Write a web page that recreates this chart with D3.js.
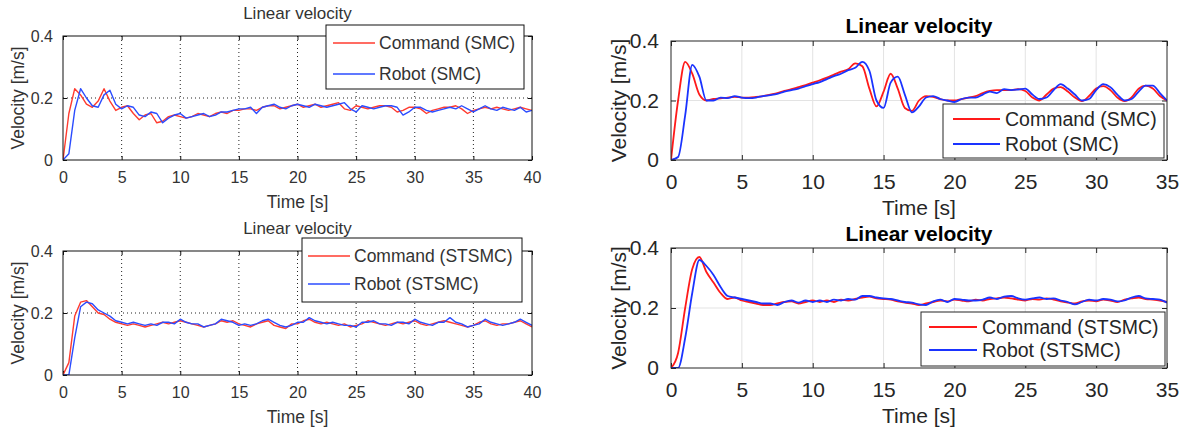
<!DOCTYPE html>
<html>
<head>
<meta charset="utf-8">
<script src="https://cdn.jsdelivr.net/npm/d3@7"></script>
<style>
  body { margin: 0; background: #fff; }
  svg { display: block; font-family: "Liberation Sans", Arial, sans-serif; }
</style>
</head>
<body>
<svg id="chart" width="1184" height="434"></svg>
<script>
// sample grids (s)
const timeLeft  = d3.range(0, 40.001, 0.5),
      timeRight = d3.range(0, 35.001, 0.5);

const xTicksLeft  = [0, 5, 10, 15, 20, 25, 30, 35, 40],
      xTicksRight = [0, 5, 10, 15, 20, 25, 30, 35],
      yTicks      = [0, 0.2, 0.4];

// top-left : SMC
const cmdSmcLeft = [0,0.15,0.23,0.21,0.18,0.17,0.19,0.23,0.19,0.16,
  0.17,0.175,0.15,0.13,0.145,0.15,0.12,0.125,0.14,0.145,
  0.14,0.135,0.14,0.15,0.145,0.14,0.15,0.155,0.15,0.16,
  0.16,0.165,0.165,0.16,0.17,0.175,0.175,0.165,0.17,0.175,
  0.18,0.17,0.175,0.18,0.17,0.175,0.18,0.185,0.165,0.16,
  0.175,0.17,0.165,0.17,0.175,0.175,0.17,0.155,0.16,0.17,
  0.17,0.165,0.15,0.16,0.165,0.17,0.17,0.175,0.165,0.15,
  0.16,0.165,0.17,0.165,0.17,0.165,0.16,0.165,0.17,0.165,0.16];
const robSmcLeft = [0,0.02,0.16,0.23,0.2,0.175,0.17,0.21,0.225,0.18,
  0.165,0.175,0.17,0.145,0.14,0.155,0.15,0.12,0.135,0.145,
  0.15,0.135,0.14,0.145,0.15,0.14,0.145,0.155,0.155,0.16,
  0.165,0.165,0.17,0.15,0.17,0.175,0.18,0.17,0.165,0.175,
  0.18,0.175,0.17,0.18,0.175,0.17,0.175,0.18,0.185,0.165,
  0.155,0.175,0.17,0.165,0.17,0.175,0.175,0.17,0.145,0.155,
  0.17,0.17,0.16,0.155,0.16,0.165,0.17,0.165,0.175,0.165,
  0.155,0.165,0.175,0.165,0.16,0.17,0.165,0.16,0.17,0.155,0.16];

// bottom-left : STSMC
const cmdStLeft = [0,0.04,0.19,0.235,0.24,0.22,0.2,0.195,0.18,0.17,
  0.165,0.16,0.165,0.16,0.155,0.16,0.165,0.17,0.165,0.17,
  0.175,0.17,0.165,0.16,0.155,0.16,0.165,0.175,0.17,0.175,
  0.165,0.16,0.155,0.165,0.17,0.175,0.16,0.155,0.15,0.165,
  0.165,0.175,0.18,0.17,0.165,0.17,0.165,0.16,0.165,0.155,
  0.16,0.165,0.175,0.17,0.165,0.16,0.165,0.17,0.165,0.17,
  0.175,0.165,0.16,0.165,0.17,0.175,0.17,0.165,0.16,0.155,
  0.16,0.17,0.175,0.165,0.16,0.165,0.165,0.17,0.175,0.165,0.155];
const robStLeft = [0,0,0.12,0.22,0.235,0.23,0.21,0.2,0.19,0.175,
  0.17,0.165,0.17,0.165,0.16,0.165,0.16,0.17,0.17,0.165,
  0.18,0.17,0.165,0.165,0.155,0.16,0.165,0.18,0.175,0.17,
  0.16,0.165,0.16,0.165,0.175,0.18,0.17,0.16,0.155,0.16,
  0.17,0.17,0.185,0.175,0.17,0.165,0.17,0.165,0.16,0.16,
  0.155,0.17,0.17,0.175,0.165,0.165,0.16,0.17,0.17,0.165,
  0.18,0.17,0.165,0.16,0.17,0.17,0.185,0.17,0.165,0.155,
  0.16,0.165,0.18,0.17,0.165,0.16,0.165,0.17,0.18,0.17,0.16];

// top-right : SMC
const cmdSmcRight = [0,0.2,0.33,0.29,0.22,0.2,0.205,0.207,0.21,0.212,
  0.21,0.21,0.212,0.215,0.22,0.225,0.232,0.238,0.245,0.252,
  0.26,0.268,0.277,0.287,0.297,0.305,0.325,0.315,0.24,0.18,
  0.23,0.29,0.24,0.175,0.165,0.2,0.215,0.212,0.205,0.2,
  0.2,0.205,0.21,0.215,0.225,0.232,0.235,0.235,0.235,0.238,
  0.232,0.21,0.2,0.22,0.24,0.245,0.23,0.21,0.198,0.215,
  0.24,0.248,0.235,0.21,0.198,0.21,0.24,0.25,0.24,0.215,0.2];
const robSmcRight = [0,0.01,0.15,0.32,0.28,0.2,0.2,0.21,0.208,0.215,
  0.21,0.208,0.21,0.215,0.218,0.222,0.23,0.235,0.24,0.248,
  0.255,0.262,0.272,0.282,0.29,0.302,0.31,0.33,0.3,0.2,
  0.175,0.26,0.28,0.22,0.16,0.18,0.21,0.215,0.205,0.2,
  0.195,0.205,0.21,0.21,0.22,0.23,0.225,0.238,0.235,0.237,
  0.24,0.22,0.205,0.21,0.235,0.255,0.24,0.22,0.2,0.205,
  0.235,0.255,0.245,0.22,0.2,0.205,0.23,0.25,0.25,0.225,0.2];

// bottom-right : STSMC
const cmdStRight = [0,0.05,0.2,0.33,0.37,0.32,0.285,0.25,0.23,0.235,
  0.225,0.22,0.215,0.21,0.21,0.215,0.22,0.222,0.215,0.22,
  0.225,0.22,0.225,0.22,0.228,0.225,0.23,0.235,0.238,0.232,
  0.23,0.228,0.222,0.218,0.215,0.21,0.215,0.22,0.225,0.222,
  0.228,0.225,0.222,0.228,0.225,0.23,0.232,0.235,0.232,0.228,
  0.225,0.23,0.228,0.232,0.228,0.222,0.218,0.215,0.222,0.225,
  0.222,0.228,0.225,0.22,0.228,0.232,0.235,0.23,0.228,0.225,0.22];
const robStRight = [0,0,0.1,0.25,0.36,0.34,0.31,0.27,0.24,0.235,
  0.23,0.225,0.22,0.215,0.215,0.21,0.22,0.225,0.218,0.225,
  0.22,0.225,0.22,0.228,0.225,0.23,0.228,0.24,0.24,0.235,
  0.232,0.23,0.225,0.22,0.218,0.212,0.21,0.222,0.228,0.22,
  0.23,0.228,0.225,0.225,0.228,0.235,0.23,0.238,0.24,0.232,
  0.228,0.232,0.235,0.23,0.232,0.225,0.22,0.212,0.22,0.228,
  0.225,0.23,0.228,0.222,0.225,0.235,0.24,0.232,0.23,0.228,0.218];

const svg = d3.select('#chart');

function panel(o){
    let x = d3.scaleLinear().domain([0, o.xMax]).range([o.x0, o.x1]),
        y = d3.scaleLinear().domain([0, 0.4]).range([o.y1, o.y0]),
        g = svg.append('g'),
        s = o.style;

    // grid
    g.selectAll('.gx').data(o.xTicks.filter(d => d > 0 && d < o.xMax)).enter()
        .append('line')
        .attr('x1', d => x(d)).attr('x2', d => x(d))
        .attr('y1', o.y0).attr('y2', o.y1)
        .attr('stroke', s.grid).attr('stroke-width', 1)
        .attr('stroke-dasharray', s.dash);
    g.selectAll('.gy').data(yTicks.filter(d => d > 0 && d < 0.4)).enter()
        .append('line')
        .attr('x1', o.x0).attr('x2', o.x1)
        .attr('y1', d => y(d)).attr('y2', d => y(d))
        .attr('stroke', s.grid).attr('stroke-width', 1)
        .attr('stroke-dasharray', s.dash);

    // axes (ticks inward), labels drawn by axis
    let ax = g.append('g').attr('transform', `translate(0,${o.y1})`)
        .call(d3.axisBottom(x).tickValues(o.xTicks).tickSize(-s.tick).tickPadding(s.tickPadX + s.tick).tickSizeOuter(0));
    let axTop = g.append('g').attr('transform', `translate(0,${o.y0})`)
        .call(d3.axisTop(x).tickValues(o.xTicks).tickSize(-s.tick).tickFormat('').tickSizeOuter(0));
    let ay = g.append('g').attr('transform', `translate(${o.x0},0)`)
        .call(d3.axisLeft(y).tickValues(yTicks).tickSize(-s.tick).tickPadding(s.tickPadY + s.tick).tickSizeOuter(0)
            .tickFormat(d => d === 0 ? '0' : d3.format('.1f')(d)));
    let ayR = g.append('g').attr('transform', `translate(${o.x1},0)`)
        .call(d3.axisRight(y).tickValues(yTicks).tickSize(-s.tick).tickFormat('').tickSizeOuter(0));
    [ax, axTop, ay, ayR].forEach(a => {
        a.select('.domain').remove();
        a.selectAll('line').attr('stroke', s.axis);
        a.selectAll('text').attr('fill', s.text).style('font-size', s.tickFont + 'px');
    });

    // lines
    let line = d3.line().x(d => x(d[0])).y(d => y(d[1])).curve(s.curve);
    let clip = 'clip' + o.id;
    svg.append('clipPath').attr('id', clip).append('rect')
        .attr('x', o.x0).attr('y', o.y0).attr('width', o.x1 - o.x0).attr('height', o.y1 - o.y0);
    o.series.forEach(sr => {
        g.append('path')
            .datum(o.time.map((t, i) => [t, sr.values[i]]))
            .attr('clip-path', `url(#${clip})`)
            .attr('fill', 'none')
            .attr('stroke', sr.color)
            .attr('stroke-width', s.lineW)
            .attr('stroke-linejoin', 'round')
            .attr('d', line);
    });

    // box
    g.append('rect').attr('x', o.x0).attr('y', o.y0)
        .attr('width', o.x1 - o.x0).attr('height', o.y1 - o.y0)
        .attr('fill', 'none').attr('stroke', s.axis).attr('stroke-width', 1);

    // title & axis labels
    g.append('text').attr('x', (o.x0 + o.x1) / 2).attr('y', o.titleY)
        .attr('text-anchor', 'middle').attr('dominant-baseline', 'central')
        .attr('fill', s.titleColor).style('font-size', s.titleFont + 'px')
        .style('font-weight', s.titleWeight).text('Linear velocity');
    g.append('text').attr('x', (o.x0 + o.x1) / 2).attr('y', o.xLabelY)
        .attr('text-anchor', 'middle').attr('dominant-baseline', 'central')
        .attr('fill', s.text).style('font-size', s.labelFont + 'px').text('Time [s]');
    g.append('text').attr('transform', `translate(${o.yLabelX},${(o.y0 + o.y1) / 2}) rotate(-90)`)
        .attr('text-anchor', 'middle').attr('dominant-baseline', 'central')
        .attr('fill', s.text).style('font-size', s.labelFont + 'px').text('Velocity [m/s]');

    // legend
    let L = o.legend;
    g.append('rect').attr('x', L.x0).attr('y', L.y0)
        .attr('width', L.x1 - L.x0).attr('height', L.y1 - L.y0)
        .attr('fill', '#fff').attr('stroke', s.axis).attr('stroke-width', 1);
    o.series.forEach((sr, i) => {
        g.append('line').attr('x1', L.lx0).attr('x2', L.lx1)
            .attr('y1', L.rows[i]).attr('y2', L.rows[i])
            .attr('stroke', sr.color).attr('stroke-width', s.lineW);
        g.append('text').attr('x', L.tx).attr('y', L.rows[i])
            .attr('dominant-baseline', 'central').attr('fill', s.text)
            .style('font-size', s.legendFont + 'px').text(sr.name);
    });
}

const oldStyle = {grid: '#222', dash: '1,3', axis: '#111', text: '#333', tick: 4, tickPadX: 8, tickPadY: 6,
    tickFont: 16, labelFont: 17.5, legendFont: 17.5, titleFont: 17, titleWeight: 'normal', titleColor: '#333',
    lineW: 1.4, curve: d3.curveLinear};
const newStyle = {grid: '#e3e3e3', dash: null, axis: '#262626', text: '#262626', tick: 5, tickPadX: 9, tickPadY: 7,
    tickFont: 21, labelFont: 21, legendFont: 19.5, titleFont: 21, titleWeight: 'bold', titleColor: '#000',
    lineW: 1.8, curve: d3.curveMonotoneX};

panel({id: 1, x0: 63, x1: 532, y0: 36, y1: 160, xMax: 40, xTicks: xTicksLeft, time: timeLeft, style: oldStyle,
    titleY: 13, xLabelY: 202, yLabelX: 18,
    series: [{name: 'Command (SMC)', color: '#ff3b2f', values: cmdSmcLeft},
             {name: 'Robot (SMC)', color: '#2b4cff', values: robSmcLeft}],
    legend: {x0: 326, x1: 524, y0: 25, y1: 89, lx0: 333, lx1: 375, tx: 379, rows: [43, 74]}});

panel({id: 2, x0: 63, x1: 532, y0: 251, y1: 375, xMax: 40, xTicks: xTicksLeft, time: timeLeft, style: oldStyle,
    titleY: 228, xLabelY: 417, yLabelX: 18,
    series: [{name: 'Command (STSMC)', color: '#ff3b2f', values: cmdStLeft},
             {name: 'Robot (STSMC)', color: '#2b4cff', values: robStLeft}],
    legend: {x0: 302, x1: 522, y0: 238, y1: 302, lx0: 308, lx1: 350, tx: 354, rows: [256, 284]}});

panel({id: 3, x0: 671, x1: 1167, y0: 41, y1: 160, xMax: 35, xTicks: xTicksRight, time: timeRight, style: newStyle,
    titleY: 25, xLabelY: 207, yLabelX: 618,
    series: [{name: 'Command (SMC)', color: '#ff1a1a', values: cmdSmcRight},
             {name: 'Robot (SMC)', color: '#1a33ff', values: robSmcRight}],
    legend: {x0: 943, x1: 1164, y0: 104, y1: 158, lx0: 953, lx1: 1000, tx: 1005, rows: [119, 144]}});

panel({id: 4, x0: 671, x1: 1167, y0: 248, y1: 368, xMax: 35, xTicks: xTicksRight, time: timeRight, style: newStyle,
    titleY: 233, xLabelY: 415, yLabelX: 618,
    series: [{name: 'Command (STSMC)', color: '#ff1a1a', values: cmdStRight},
             {name: 'Robot (STSMC)', color: '#1a33ff', values: robStRight}],
    legend: {x0: 921, x1: 1165, y0: 312, y1: 366, lx0: 929, lx1: 977, tx: 982, rows: [327, 350]}});
</script>
</body>
</html>
